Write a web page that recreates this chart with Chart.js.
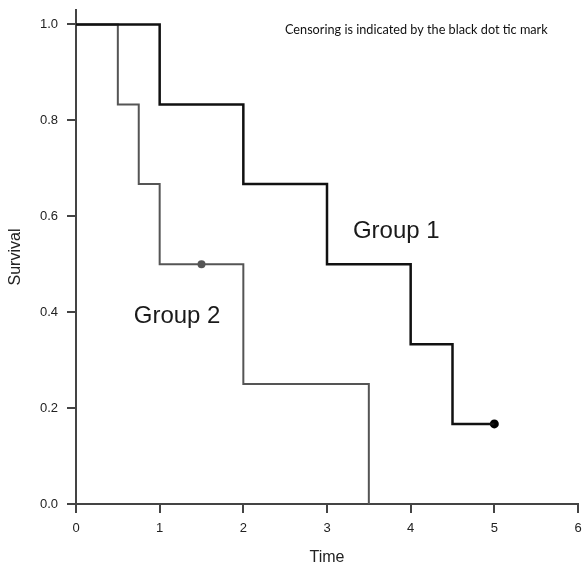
<!DOCTYPE html>
<html>
<head>
<meta charset="utf-8">
<script src="https://cdn.jsdelivr.net/npm/chart.js@4"></script>
<style>
  html, body { margin: 0; padding: 0; background: #fff; }
  #wrap { width: 584px; height: 564px; }
</style>
</head>
<body>
<div id="wrap"><canvas id="chart" width="584" height="564"></canvas></div>
<script>
// Kaplan-Meier steps
const group1Time = [0, 1, 2, 3, 4, 4.5, 5];
const group1Surv = [1, 0.833, 0.667, 0.5, 0.333, 0.167, 0.167];
const group2Time = [0, 0.5, 0.75, 1, 2, 3.5];
const group2Surv = [1, 0.833, 0.667, 0.5, 0.25, 0];

// censored observations
const censor1Time = [5];
const censor1Surv = [0.167];
const censor2Time = [1.5];
const censor2Surv = [0.5];

const xTicks = [0, 1, 2, 3, 4, 5, 6];
const yTicks = [0, 0.2, 0.4, 0.6, 0.8, 1.0];

const toPoints = (xs, ys) => xs.map((x, i) => ({ x: x, y: ys[i] }));

const labelsPlugin = {
    id: 'labels',
    afterDraw(chart) {
        const ctx = chart.ctx;
        const xs = chart.scales.x, ys = chart.scales.y;
        ctx.save();
        ctx.fillStyle = '#1a1a1a';
        ctx.textBaseline = 'middle';
        ctx.textAlign = 'left';
        ctx.font = '24px "Liberation Sans", Arial, sans-serif';
        ctx.fillText('Group 1', xs.getPixelForValue(3.31), ys.getPixelForValue(0.568));
        ctx.fillText('Group 2', xs.getPixelForValue(0.69), ys.getPixelForValue(0.392));
        ctx.font = '12.7px Lato, "Open Sans", sans-serif';
        ctx.fillStyle = '#111';
        ctx.fillText('Censoring is indicated by the black dot tic mark', 285, 30);
        ctx.restore();
    }
};

const ctx = document.getElementById('chart').getContext('2d');
new Chart(ctx, {
    type: 'scatter',
    data: {
        datasets: [
            {
                label: 'Group 1',
                data: toPoints(group1Time, group1Surv),
                showLine: true,
                stepped: 'before',
                borderColor: '#111',
                borderWidth: 2.5,
                pointRadius: 0,
                fill: false
            },
            {
                label: 'Group 2',
                data: toPoints(group2Time, group2Surv),
                showLine: true,
                stepped: 'before',
                borderColor: '#555',
                borderWidth: 2,
                pointRadius: 0,
                fill: false
            },
            {
                label: 'Censor 1',
                data: toPoints(censor1Time, censor1Surv),
                pointRadius: 4.5,
                pointBackgroundColor: '#000',
                pointBorderWidth: 0
            },
            {
                label: 'Censor 2',
                data: toPoints(censor2Time, censor2Surv),
                pointRadius: 4,
                pointBackgroundColor: '#555',
                pointBorderWidth: 0
            }
        ]
    },
    options: {
        responsive: false,
        animation: false,
        layout: { padding: { top: 10, right: 6, left: 2, bottom: 0 } },
        plugins: {
            legend: { display: false },
            tooltip: { enabled: false }
        },
        scales: {
            x: {
                type: 'linear',
                min: 0,
                max: 6,
                afterBuildTicks: s => { s.ticks = xTicks.map(v => ({ value: v })); },
                afterFit: s => { s.height = 60; s.paddingLeft = 0; s.paddingRight = 0; },
                border: { color: '#444', width: 2 },
                grid: { drawOnChartArea: false, drawTicks: true, tickLength: 9, color: '#444', lineWidth: 2 },
                ticks: {
                    color: '#222',
                    padding: 8,
                    font: { family: '"Liberation Sans", Arial, sans-serif', size: 13 },
                    maxRotation: 0
                },
                title: {
                    display: true,
                    text: 'Time',
                    color: '#222',
                    padding: { top: 4, bottom: -3 },
                    font: { family: '"Liberation Sans", Arial, sans-serif', size: 16 }
                }
            },
            y: {
                type: 'linear',
                min: 0,
                max: 1.03,
                afterBuildTicks: s => { s.ticks = yTicks.map(v => ({ value: v })); },
                afterFit: s => { s.width = 74; s.paddingTop = 0; s.paddingBottom = 0; },
                border: { color: '#444', width: 2 },
                grid: { drawOnChartArea: false, drawTicks: true, tickLength: 9, color: '#444', lineWidth: 2 },
                ticks: {
                    color: '#222',
                    padding: 9,
                    font: { family: '"Liberation Sans", Arial, sans-serif', size: 13 },
                    callback: v => v.toFixed(1)
                },
                title: {
                    display: true,
                    text: 'Survival',
                    color: '#222',
                    padding: { top: 4, bottom: 0 },
                    font: { family: '"Liberation Sans", Arial, sans-serif', size: 16 }
                }
            }
        }
    },
    plugins: [labelsPlugin]
});
</script>
</body>
</html>
